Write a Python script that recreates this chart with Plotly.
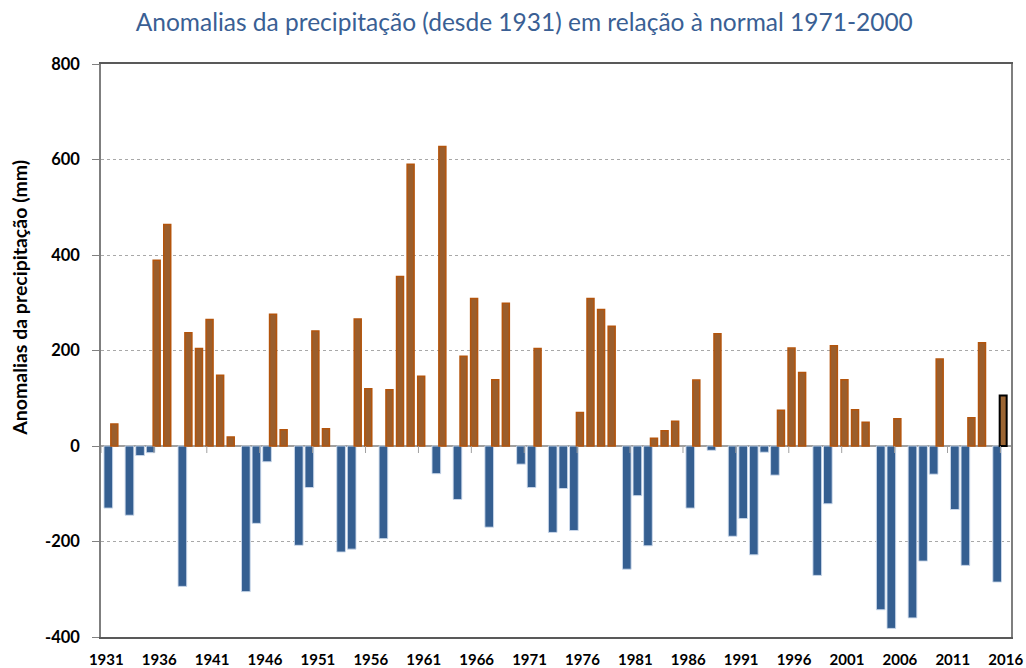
import plotly.graph_objects as go

years = list(range(1931, 2017))
anomalies = [
    -130, 46, -145, -20, -14, 389, 464, -294, 237, 204,
    265, 148, 19, -305, -162, -33, 276, 34, -208, -87,
    241, 36, -222, -216, 266, 120, -194, 118, 355, 590,
    146, -58, 627, -112, 188, 309, -170, 139, 299, -38,
    -87, 204, -181, -89, -177, 70, 309, 286, 251, -258,
    -104, -209, 16, 32, 52, -130, 138, -9, 235, -189,
    -152, -228, -13, -61, 75, 205, 154, -271, -121, 210,
    139, 76, 50, -343, -382, 57, -360, -241, -59, 182,
    -133, -250, 59, 216, -285, 106,
]
highlight_year = 2016
tick_years = list(range(1931, 2017, 5))
y_ticks = [-400, -200, 0, 200, 400, 600, 800]

title = "Anomalias da precipitação (desde 1931) em relação à normal 1971-2000"
y_title = "Anomalias da precipitação (mm)"

neg_x = [y for y, v in zip(years, anomalies) if v < 0]
neg_v = [v for v in anomalies if v < 0]
pos_x = [y for y, v in zip(years, anomalies) if v >= 0 and y != highlight_year]
pos_v = [v for y, v in zip(years, anomalies) if v >= 0 and y != highlight_year]
hl_x = [y for y in years if y == highlight_year]
hl_v = [v for y, v in zip(years, anomalies) if y == highlight_year]

BLUE = "#355F91"
ORANGE_FILL = "#9B5E2C"
ORANGE_LINE = "#B3540C"

fig = go.Figure()
fig.add_trace(go.Bar(
    x=neg_x, y=neg_v, width=0.82, offset=-0.22,
    marker=dict(color=BLUE, line=dict(color="rgba(205,218,236,0.9)", width=1)),
    showlegend=False,
))
fig.add_trace(go.Bar(
    x=pos_x, y=pos_v, width=0.66, offset=-0.57,
    marker=dict(color=ORANGE_FILL, line=dict(color=ORANGE_LINE, width=1.5)),
    showlegend=False,
))
fig.add_trace(go.Bar(
    x=hl_x, y=hl_v, width=0.66, offset=-0.57,
    marker=dict(color="#9C6634", line=dict(color="black", width=2)),
    showlegend=False,
))

# small tick marks on the zero line, between categories every 5 years
for t in tick_years:
    fig.add_shape(type="line", xref="x", yref="y", x0=t - 0.5, x1=t - 0.5,
                  ysizemode="pixel", yanchor=0, y0=0, y1=-7,
                  line=dict(color="#a0a0a0", width=1))

# y-axis title as an annotation (placed slightly above plot centre, as in the original)
fig.add_annotation(
    text=y_title, textangle=-90, xref="paper", yref="paper",
    x=-0.089, y=0.592, xanchor="center", yanchor="middle", showarrow=False,
    font=dict(family="Lato, sans-serif", size=19.5, color="black", weight="bold"),
)

fig.update_layout(
    width=1026, height=668,
    margin=dict(l=101, r=15, t=64, b=31),
    paper_bgcolor="white", plot_bgcolor="white",
    barmode="overlay",
    font=dict(family="Lato, Open Sans, sans-serif", color="black"),
    title=dict(text=title, x=0.511, xanchor="center", y=1 - 22 / 668, yanchor="middle",
               font=dict(family="Lato, sans-serif", size=24.5, color="#3A5F94")),
)
fig.update_xaxes(
    range=[1930.5, 2016.5], automargin=False,
    tickvals=tick_years, ticktext=[str(t) for t in tick_years],
    tickfont=dict(size=15, color="black", weight="bold"),
    ticks="", showgrid=False, zeroline=False,
    showline=True, linecolor="#595959", linewidth=1.5, mirror=True,
    ticklabelstandoff=8,
)
fig.update_yaxes(
    range=[-400, 800], automargin=False,
    tickvals=y_ticks, ticktext=[str(v) for v in y_ticks],
    tickfont=dict(size=16.5, color="black", weight="bold"),
    ticks="outside", ticklen=7, tickcolor="#808080", tickwidth=1,
    showgrid=True, gridcolor="#a8a8a8", griddash="dot", gridwidth=1,
    zeroline=True, zerolinecolor="#a0a0a0", zerolinewidth=1.5,
    showline=True, linecolor="#7f7f7f", linewidth=1.5, mirror=True,
    ticklabelstandoff=9,
)

# remove the default page margin so the 1026x668 figure fills the window exactly
fig.write_html(
    "out.html",
    config={"displayModeBar": False},
    post_script="document.body.style.margin='0';document.body.style.overflow='hidden';",
)
